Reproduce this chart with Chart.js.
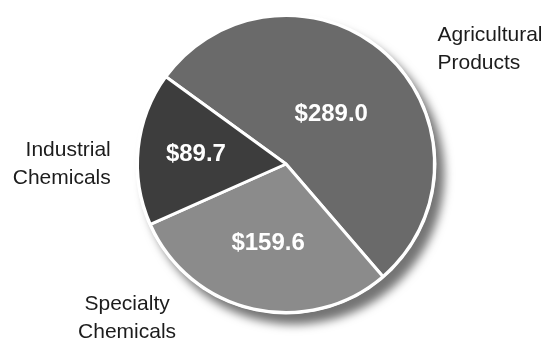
<!DOCTYPE html>
<html>
<head>
<meta charset="utf-8">
<script src="https://cdn.jsdelivr.net/npm/chart.js@4/dist/chart.umd.min.js"></script>
<style>
  html, body { margin: 0; padding: 0; background: #ffffff; }
  #wrap { width: 547px; height: 343px; position: relative; }
</style>
</head>
<body>
<div id="wrap"><canvas id="pie" width="547" height="343"></canvas></div>
<script>
// Segment sales, in millions of dollars
const segments = ['Agricultural Products', 'Specialty Chemicals', 'Industrial Chemicals'];
const segmentLines = [['Agricultural', 'Products'], ['Specialty', 'Chemicals'], ['Industrial', 'Chemicals']];
const sales = [289.0, 159.6, 89.7];
const sliceColors = ['#6a6a6a', '#8b8b8b', '#3d3d3d'];

// Soft drop shadow to the lower right of the disc, separated from it by a thin white rim
const discShadow = {
  id: 'discShadow',
  beforeDatasetsDraw(chart) {
    const arc = chart.getDatasetMeta(0).data[0];
    if (!arc) return;
    const ctx = chart.ctx;
    ctx.save();
    ctx.shadowColor = 'rgba(0,0,0,0.55)';
    ctx.shadowBlur = 10;
    ctx.shadowOffsetX = 8;
    ctx.shadowOffsetY = 10;
    ctx.fillStyle = '#ffffff';
    ctx.beginPath();
    ctx.arc(arc.x, arc.y, arc.outerRadius + 2, 0, Math.PI * 2);
    ctx.fill();
    ctx.restore();
  }
};

// Dollar values inside each slice, plus segment names around the disc
const sliceLabels = {
  id: 'sliceLabels',
  afterDatasetsDraw(chart, args, opts) {
    const meta = chart.getDatasetMeta(0);
    const ctx = chart.ctx;
    const values = chart.data.datasets[0].data;
    meta.data.forEach((arc, i) => {
      const R = arc.outerRadius;
      const mid = (arc.startAngle + arc.endAngle) / 2;
      const r = R * opts.valueRadius[i];
      ctx.save();
      ctx.font = 'bold 24px "Liberation Sans", Arial, Helvetica, sans-serif';
      ctx.fillStyle = '#ffffff';
      ctx.textAlign = 'center';
      ctx.textBaseline = 'middle';
      ctx.fillText('$' + values[i].toFixed(1), arc.x + Math.cos(mid) * r, arc.y + Math.sin(mid) * r);
      ctx.restore();

      const p = opts.namePlace[i];
      ctx.save();
      ctx.font = '21px "Liberation Sans", Arial, Helvetica, sans-serif';
      ctx.fillStyle = '#1c1c1c';
      ctx.textAlign = p.align;
      ctx.textBaseline = 'alphabetic';
      const x = arc.x + p.dx * R;
      const y = arc.y + p.dy * R;
      segmentLines[i].forEach((line, k) => ctx.fillText(line, x, y + k * 28));
      ctx.restore();
    });
  }
};

new Chart(document.getElementById('pie'), {
  type: 'pie',
  data: {
    labels: segments,
    datasets: [{
      data: sales,
      backgroundColor: sliceColors,
      borderColor: '#ffffff',
      borderWidth: 3,
      hoverOffset: 0
    }]
  },
  options: {
    responsive: false,
    animation: false,
    rotation: -54,
    layout: { padding: { left: 136, right: 111, top: 14, bottom: 29 } },
    events: [],
    plugins: {
      legend: { display: false },
      tooltip: { enabled: false },
      sliceLabels: {
        valueRadius: [0.45, 0.55, 0.61],
        namePlace: [
          { dx: 1.02, dy: -0.83, align: 'left' },
          { dx: -1.07, dy: 0.98, align: 'center' },
          { dx: -1.18, dy: -0.053, align: 'right' }
        ]
      }
    }
  },
  plugins: [discShadow, sliceLabels]
});
</script>
</body>
</html>
